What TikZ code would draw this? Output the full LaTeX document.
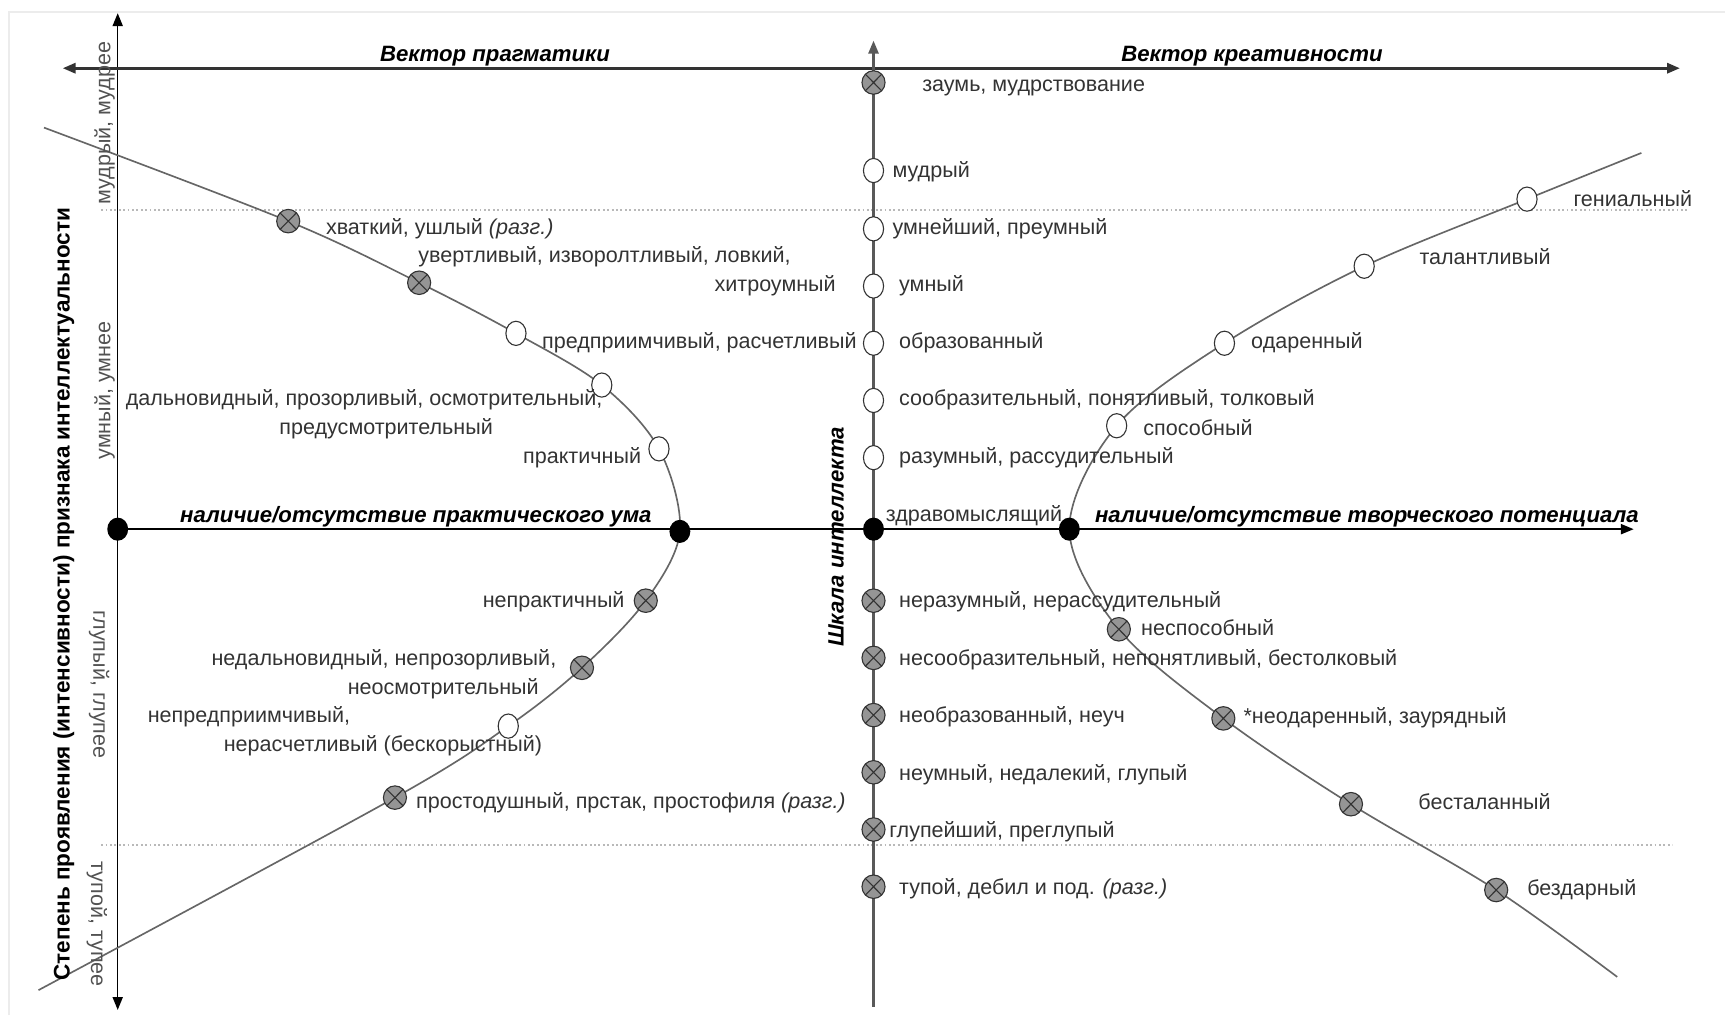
\documentclass[tikz,border=0pt]{standalone}
\usepackage{fontspec}
\setmainfont{Liberation Sans}
\usetikzlibrary{arrows.meta,shapes.geometric}
\definecolor{txt}{HTML}{333333}
\definecolor{crv}{HTML}{666666}
\definecolor{mk}{HTML}{959595}
\newcommand\lf{\fontsize{11.75}{13}\selectfont}
\newcommand\tf{\fontsize{12.1}{14}\selectfont}
\begin{document}
\begin{tikzpicture}[x=0.6pt,y=-0.6pt,
  >={Triangle[length=7pt,width=5.5pt]},
  cx/.style={ellipse,draw=black!80,fill=mk,line width=0.6pt,minimum width=12.6pt,minimum height=12.8pt,inner sep=0pt,
    path picture={\draw[black!80,line width=0.6pt] (path picture bounding box.north west)--(path picture bounding box.south east) (path picture bounding box.north east)--(path picture bounding box.south west);}},
  wc/.style={ellipse,draw=black!80,fill=white,line width=0.6pt,minimum width=11pt,minimum height=13.2pt,inner sep=0pt},
  bd/.style={ellipse,fill=black,minimum width=11.4pt,minimum height=12.6pt,inner sep=0pt},
  lb/.style={anchor=base west,inner sep=0pt,text=txt,font=\lf},
  lbr/.style={anchor=base east,inner sep=0pt,text=txt,font=\lf},
  lbc/.style={anchor=base,inner sep=0pt,text=txt,font=\lf},
  ttl/.style={inner sep=0pt,font=\tf\bfseries\itshape},
  side/.style={inner sep=0pt,text=txt!85,font=\lf},
  curve/.style={draw=crv,line width=0.9pt},
  dots/.style={draw=gray!55,line width=1.2pt,dash pattern=on 1pt off 1.4pt},
]
\useasboundingbox (0,0) rectangle (1568,923);
\draw[gray!15,line width=0.8pt] (8,923) -- (8,11) -- (1568,11);

% coordinates
\coordinate (d1a) at (92,191); \coordinate (d1b) at (1535,191);
\coordinate (d2a) at (92,768); \coordinate (d2b) at (1520,768);
\coordinate (vt) at (107,12); \coordinate (vb) at (107,918);
\coordinate (hl) at (57,62); \coordinate (hr) at (1527,62);
\coordinate (ct) at (794,37); \coordinate (cb) at (794,915);
\coordinate (L0) at (107,481); \coordinate (C0) at (794,481); \coordinate (mr) at (1485,481);

\coordinate (lA) at (40,116);
\coordinate (l1) at (262,201);
\coordinate (l2) at (381,257);
\coordinate (l3) at (469,303);
\coordinate (l4) at (547,350);
\coordinate (l5) at (599,408);
\coordinate (lv) at (618,483);
\coordinate (l6) at (587,546);
\coordinate (l7) at (529,607);
\coordinate (l8) at (462,660);
\coordinate (l9) at (359,725);
\coordinate (lB) at (35,900);

\coordinate (rA) at (1492,139);
\coordinate (r1) at (1388,181);
\coordinate (r2) at (1240,242);
\coordinate (r3) at (1113,312);
\coordinate (r4) at (1015,387);
\coordinate (rv) at (972,481);
\coordinate (r5) at (1017,572);
\coordinate (r6) at (1112,653);
\coordinate (r7) at (1228,731);
\coordinate (r8) at (1360,809);
\coordinate (rB) at (1470,888);

% dotted levels
\draw[dots] (d1a) -- (d1b);
\draw[dots] (d2a) -- (d2b);

% axes
\draw[line width=0.8pt,<->] (vb) -- (vt);
\draw[line width=1.5pt,draw=black!80,<->] (hl) -- (hr);
\draw[line width=1.2pt,draw=black!65,->] (cb) -- (ct);
\draw[line width=1pt,->] (L0) -- (mr);

% curves
\draw[curve] plot[smooth,tension=0.55] coordinates {(lA) (l1) (l2) (l3) (l4) (l5) (lv) (l6) (l7) (l8) (l9) (lB)};
\draw[curve] plot[smooth,tension=0.55] coordinates {(rA) (r1) (r2) (r3) (r4) (rv) (r5) (r6) (r7) (r8) (rB)};

% markers
\node[bd] (mL0) at (L0) {};
\node[bd] (mC0) at (C0) {};
\node[bd] (mlv) at (lv) {};
\node[bd] (mrv) at (rv) {};

\node[cx] (ml1) at (l1) {};
\node[cx] (ml2) at (l2) {};
\node[wc] (ml3) at (l3) {};
\node[wc] (ml4) at (l4) {};
\node[wc] (ml5) at (l5) {};
\node[cx] (ml6) at (l6) {};
\node[cx] (ml7) at (l7) {};
\node[wc] (ml8) at (l8) {};
\node[cx] (ml9) at (l9) {};

\node[wc] (mr1) at (r1) {};
\node[wc] (mr2) at (r2) {};
\node[wc] (mr3) at (r3) {};
\node[wc] (mr4) at (r4) {};
\node[cx] (mr5) at (r5) {};
\node[cx] (mr6) at (r6) {};
\node[cx] (mr7) at (r7) {};
\node[cx] (mr8) at (r8) {};

\node[cx] (c1) at (794,75) {};
\node[wc] (c2) at (794,155) {};
\node[wc] (c3) at (794,208) {};
\node[wc] (c4) at (794,260) {};
\node[wc] (c5) at (794,312) {};
\node[wc] (c6) at (794,364) {};
\node[wc] (c7) at (794,416) {};
\node[cx] (c8) at (794,546) {};
\node[cx] (c9) at (794,598) {};
\node[cx] (c10) at (794,650) {};
\node[cx] (c11) at (794,702) {};
\node[cx] (c12) at (794,754) {};
\node[cx] (c13) at (794,806) {};

% titles
\node[ttl,anchor=base] (tp) at (450,56) {Вектор прагматики};
\node[ttl,anchor=base] (tk) at (1138,56) {Вектор креативности};
\node[ttl,anchor=base] (tpu) at (378,475) {наличие/отсутствие практического ума};
\node[ttl,anchor=base west] (ttp) at (995,475) {наличие/отсутствие творческого потенциала};
\node[ttl,rotate=90] (tsh) at (760,488) {Шкала интеллекта};
\node[inner sep=0pt,font=\fontsize{12.3}{14}\selectfont\bfseries,rotate=90] (tst) at (58,540) {Степень проявления (интенсивности) признака интеллектуальности};
\node[side,rotate=90] (s1) at (95,112) {мудрый, мудрее};
\node[side,rotate=90] (s2) at (95,355) {умный, умнее};
\node[side,rotate=-90] (s3) at (90,622) {глупый, глупее};
\node[side,rotate=-90] (s4) at (88,840) {тупой, тупее};

% central labels
\node[lb] at (838,83) {заумь, мудрствование};
\node[lb] at (811,161) {мудрый};
\node[lb] at (811,213) {умнейший, преумный};
\node[lb] at (817,265) {умный};
\node[lb] at (817,317) {образованный};
\node[lb] at (817,369) {сообразительный, понятливый, толковый};
\node[lb] at (817,421) {разумный, рассудительный};
\node[lb] at (805,474) {здравомыслящий};
\node[lb] at (817,552) {неразумный, нерассудительный};
\node[lb] at (817,605) {несообразительный, непонятливый, бестолковый};
\node[lb] at (817,657) {необразованный, неуч};
\node[lb] at (817,709) {неумный, недалекий, глупый};
\node[lb] at (808,761) {глупейший, преглупый};
\node[lb] at (817,813) {тупой, дебил и под. {\itshape (разг.)}};

% left labels
\node[lb] at (296,213) {хваткий, ушлый {\itshape (разг.)}};
\node[lb] at (380,239) {увертливый, изворолтливый, ловкий,};
\node[lbr] at (760,265) {хитроумный};
\node[lbr] at (779,317) {предприимчивый, расчетливый};
\node[lbc] at (331,369) {дальновидный, прозорливый, осмотрительный,};
\node[lbc] at (351,395) {предусмотрительный};
\node[lbr] at (583,421) {практичный};
\node[lbr] at (568,552) {непрактичный};
\node[lbr] at (506,605) {недальновидный, непрозорливый,};
\node[lbr] at (490,631) {неосмотрительный};
\node[lb] at (134,657) {непредприимчивый,};
\node[lbr] at (493,683) {нерасчетливый (бескорыстный)};
\node[lb] at (378,735) {простодушный, прстак, простофиля {\itshape (разг.)}};

% right labels
\node[lb] at (1430,188) {гениальный};
\node[lb] at (1290,240) {талантливый};
\node[lb] at (1137,317) {одаренный};
\node[lb] at (1039,396) {способный};
\node[lb] at (1037,578) {неспособный};
\node[lb] at (1130,658) {*неодаренный, заурядный};
\node[lb] at (1289,736) {бесталанный};
\node[lb] at (1388,814) {бездарный};
\end{tikzpicture}
\end{document}
